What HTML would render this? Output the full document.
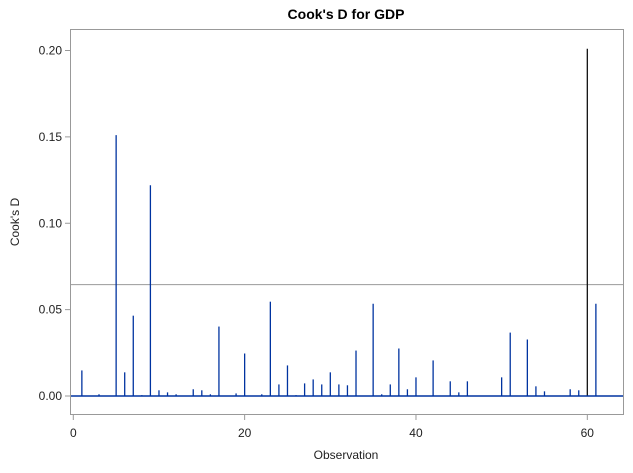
<!DOCTYPE html>
<html><head><meta charset="utf-8"><style>
body{margin:0;background:#fff;}
svg text{font-family:"Liberation Sans",Arial,sans-serif;}
</style></head><body>
<svg width="633" height="468" xmlns="http://www.w3.org/2000/svg">
<text x="346" y="19" text-anchor="middle" font-size="14" font-weight="bold" fill="#000">Cook's D for GDP</text>
<rect x="70.5" y="29.5" width="553" height="385" fill="none" stroke="#999"/>
<g id="yticks"></g>
<g id="xticks"></g>
<line x1="70.5" x2="623.5" id="refline" stroke="#999" stroke-width="1"/>
<g id="spikes"></g>
<line x1="71" x2="623" id="baseline" stroke="#0033a0" stroke-width="1.5"/>
<text x="346" y="459" text-anchor="middle" font-size="12" fill="#222">Observation</text>
<text transform="translate(19,222) rotate(-90)" text-anchor="middle" font-size="12" fill="#222">Cook's D</text>
</svg>
<script>
const observations=[1,3,5,6,7,8,9,10,11,12,14,15,16,17,19,20,22,23,24,25,26,27,28,29,30,31,32,33,35,36,37,38,39,40,42,44,45,46,50,51,53,54,55,58,59,60,61];
const cooksD=[0.0148,0.001,0.151,0.0137,0.0465,0.0005,0.122,0.0033,0.0021,0.001,0.0039,0.0033,0.001,0.0402,0.0015,0.0246,0.001,0.0546,0.0067,0.0177,0.0005,0.0073,0.0096,0.0067,0.0137,0.0067,0.0062,0.0263,0.0534,0.001,0.0067,0.0275,0.0039,0.0108,0.0206,0.0085,0.0021,0.0085,0.0108,0.0367,0.0327,0.0056,0.0027,0.0039,0.0033,0.201,0.0534];
const cutoff=0.0645;
const yTicks=[0,0.05,0.10,0.15,0.20];
const yTickLabels=["0.00","0.05","0.10","0.15","0.20"];
const xTicks=[0,20,40,60];
const xTickLabels=["0","20","40","60"];
const NS="http://www.w3.org/2000/svg";
const xs=v=>73.3+v*8.567;
const ys=v=>396-v*1727.5;
function mk(tag,attrs,parent){const e=document.createElementNS(NS,tag);for(const k in attrs)e.setAttribute(k,attrs[k]);parent.appendChild(e);return e;}
const yg=document.getElementById('yticks');
yTicks.forEach((t,i)=>{const y=ys(t);
 const l=mk('line',{x1:65,x2:70.5,y1:y,y2:y,stroke:'#999'},yg);
 
 
 const tx=mk('text',{x:62,y:y+4,'text-anchor':'end','font-size':12,fill:'#222'},yg);tx.textContent=yTickLabels[i];
 
 
});
const xg=document.getElementById('xticks');
xTicks.forEach((t,i)=>{const x=xs(t);
 const l=mk('line',{x1:x,x2:x,y1:414.5,y2:420,stroke:'#999'},xg);
 
 
 const tx=mk('text',{x:x,y:437,'text-anchor':'middle','font-size':12,fill:'#222'},xg);tx.textContent=xTickLabels[i];
 
 
});
const r=document.getElementById('refline');r.setAttribute('y1',ys(cutoff));r.setAttribute('y2',ys(cutoff));
const b=document.getElementById('baseline');b.setAttribute('y1',ys(0));b.setAttribute('y2',ys(0));
const sg=document.getElementById('spikes');
observations.forEach((o,i)=>{const x=xs(o);
 const l=mk('line',{x1:x,x2:x,y1:ys(0),y2:ys(cooksD[i]),stroke:cooksD[i]>0.18?'#111':'#0033a0','stroke-width':1.3},sg);
 
 
});
</script>
</body></html>
